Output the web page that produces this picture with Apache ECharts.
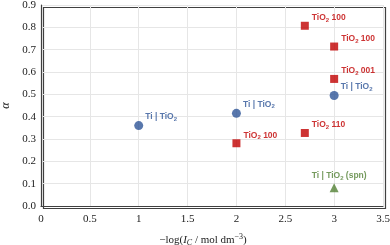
<!DOCTYPE html>
<html><head><meta charset="utf-8">
<script src="https://cdn.jsdelivr.net/npm/echarts@6/dist/echarts.min.js"></script>
<style>html,body{margin:0;padding:0;background:#fff}#c{width:390px;height:245px}</style>
</head><body><div id="c"></div>
<script>
var xTicks = [0, 0.5, 1, 1.5, 2, 2.5, 3, 3.5];
var yTicks = [0.0, 0.1, 0.2, 0.3, 0.4, 0.5, 0.6, 0.7, 0.8, 0.9];
// Ti | TiO2 (blue circles)
var tiX = [1, 2, 3];
var tiY = [0.360, 0.415, 0.495];
// TiO2 facets (red squares)
var tio2X = [2.7, 3, 3, 2.7, 2];
var tio2Y = [0.807, 0.714, 0.569, 0.327, 0.281];
var tio2Labels = ['100', '100', '001', '110', '100'];
// Ti | TiO2 (spn) (green triangle)
var spnX = [3];
var spnY = [0.082];

var serif = '"Liberation Serif", "Times New Roman", "DejaVu Serif", serif';
var blue = '#2e5597', red = '#c00000', green = '#538135';
var rich = function(c){ return {
  a:{color:c,fontWeight:'bold',fontSize:8.5,fontFamily:'Liberation Sans'},
  s:{color:c,fontWeight:'bold',fontSize:6,fontFamily:'Liberation Sans',verticalAlign:'bottom',padding:[5,0,0,0]}
};};
function pts(xs, ys){ return xs.map(function(x,i){return [x, ys[i]];}); }

var chart = echarts.init(document.getElementById('c'));
chart.setOption({
  animation:false,
  grid:{left:41,right:7,top:5,bottom:39,containLabel:false,outerBoundsMode:'none'},
  xAxis:{type:'value',min:0,max:3.5,interval:0.5,
    axisLine:{show:true,lineStyle:{color:'#404040',width:1.2}},
    axisTick:{show:false},
    axisLabel:{color:'#222',fontFamily:serif,fontSize:11,margin:8,
      formatter:function(v){return String(v);}},
    splitLine:{show:true,lineStyle:{color:'#e6e6e6',width:1}},
    name:'{t|−log(}{i|I}{sub|C}{t| / mol dm}{sup|−3}{t|)}',
    nameLocation:'middle',nameGap:27,
    nameTextStyle:{padding:[0,18,0,0],rich:{
      t:{fontFamily:serif,fontSize:11,color:'#222'},
      i:{fontFamily:serif,fontSize:11,fontStyle:'italic',color:'#222'},
      sub:{fontFamily:serif,fontSize:8,fontStyle:'italic',color:'#222',verticalAlign:'bottom',padding:[6,0,0,0]},
      sup:{fontFamily:serif,fontSize:8,color:'#222',verticalAlign:'top',padding:[0,0,6,0]}
    }}
  },
  yAxis:{type:'value',min:0,max:0.9,interval:0.1,
    axisLine:{show:true,lineStyle:{color:'#404040',width:1.2}},
    axisTick:{show:false},
    axisLabel:{color:'#222',fontFamily:serif,fontSize:11,margin:5,
      formatter:function(v){return v.toFixed(1);}},
    splitLine:{show:true,lineStyle:{color:'#e6e6e6',width:1}},
    name:'α',nameLocation:'middle',nameRotate:90,nameGap:29,
    nameTextStyle:{fontFamily:serif,fontStyle:'italic',fontSize:12,color:'#222'}
  },
  graphic:[{type:'rect',left:41,top:5,shape:{width:342,height:201},
    style:{fill:'none',stroke:'#404040',lineWidth:1.2},silent:true}],
  series:[
    {type:'scatter',data:pts(tiX,tiY),symbol:'circle',symbolSize:9,
      itemStyle:{color:blue},
      label:{show:true,position:'right',distance:2,offset:[0,-9],
        formatter:'{a|Ti | TiO}{s|2}',rich:rich(blue)}},
    {type:'scatter',data:pts(tio2X,tio2Y),symbol:'rect',symbolSize:8,
      itemStyle:{color:red},
      label:{show:true,position:'right',distance:3,offset:[0,-8],
        formatter:function(p){return '{a|TiO}{s|2}{a| '+tio2Labels[p.dataIndex]+'}';},rich:rich(red)}},
    {type:'scatter',data:pts(spnX,spnY),symbol:'triangle',symbolSize:9,
      itemStyle:{color:green},
      label:{show:true,position:'top',distance:4,offset:[5,2],
        formatter:'{a|Ti | TiO}{s|2}{a| (spn)}',rich:rich(green)}}
  ]
});
</script></body></html>
